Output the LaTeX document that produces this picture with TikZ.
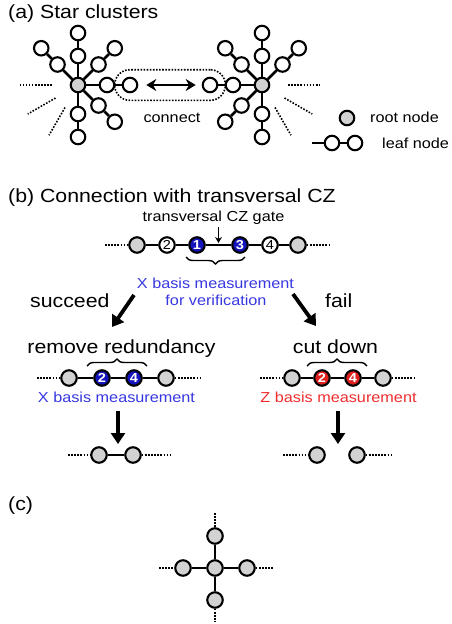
\documentclass[tikz,border=0pt]{standalone}
\usepackage{fontspec}
\setmainfont{Liberation Sans}[FakeStretch=1.12]
\usetikzlibrary{arrows.meta,decorations.pathreplacing,fit}
\definecolor{nodegray}{RGB}{210,210,210}
\definecolor{fillblue}{RGB}{20,20,190}
\definecolor{textblue}{RGB}{55,55,225}
\definecolor{fillred}{RGB}{225,30,30}
\definecolor{textred}{RGB}{240,45,45}
\begin{document}
\begin{tikzpicture}[x=1pt,y=-1pt,
  leaf/.style={circle,draw,line width=2.1pt,fill=white,minimum size=14.5pt,inner sep=0pt},
  root/.style={leaf,fill=nodegray},
  qb/.style={circle,draw,line width=2.1pt,minimum size=15.5pt,inner sep=0pt,font=\fontsize{13}{13}\selectfont},
  qopen/.style={qb,fill=white},
  qgray/.style={qb,fill=nodegray},
  qblue/.style={qb,fill=fillblue,text=white,font=\fontsize{13}{13}\selectfont\bfseries},
  qred/.style={qb,fill=fillred,text=white,font=\fontsize{13}{13}\selectfont\bfseries},
  edge/.style={line width=2.6pt},
  dots/.style={line width=1.6pt,dash pattern=on 1.6pt off 1.5pt},
  big/.style={font=\fontsize{19}{22}\selectfont},
  small/.style={font=\fontsize{14.5}{17}\selectfont},
  bigarrow/.style={line width=3.8pt,-{Triangle[width=14pt,length=11pt]}},
  brc/.style={decorate,decoration={brace,amplitude=7pt},line width=1.4pt},
]
\useasboundingbox (0,0) rectangle (452,624);

% ---------------- (a) ----------------
\node[big,anchor=base west,inner sep=0pt] (ta) at (8,18) {(a) Star clusters};

\node[root] (L) at (78,85) {};
\foreach \a in {270,90,0,225,315,45} {
  \node[leaf] (La\a) at ([shift={(\a:29)}]L) {};
  \node[leaf] (Lb\a) at ([shift={(\a:52)}]L) {};
  \draw[edge] (L) -- (La\a) -- (Lb\a);
}
\node[root] (R) at (262,85) {};
\foreach \a in {270,90,180,225,315,135} {
  \node[leaf] (Ra\a) at ([shift={(\a:29)}]R) {};
  \node[leaf] (Rb\a) at ([shift={(\a:52)}]R) {};
  \draw[edge] (R) -- (Ra\a) -- (Rb\a);
}
% dotted continuation lines
\foreach \a in {180,150,120} {
  \coordinate (Ld\a s) at ([shift={(\a:26)}]L);
  \coordinate (Ld\a e) at ([shift={(\a:58)}]L);
  \draw[dots] (Ld\a s) -- (Ld\a e);
}
\foreach \a in {0,30,60} {
  \coordinate (Rd\a s) at ([shift={(\a:26)}]R);
  \coordinate (Rd\a e) at ([shift={(\a:58)}]R);
  \draw[dots] (Rd\a s) -- (Rd\a e);
}
\node[fit=(Lb0)(Rb180),inner sep=7pt,rounded corners=15pt,draw,dots] (box) {};
\draw[line width=2.2pt,{Stealth[width=12pt,length=10pt]}-{Stealth[width=12pt,length=10pt]}]
  ([xshift=8pt]Lb0.east) -- ([xshift=-6pt]Rb180.west);
\node[small,anchor=base] (conn) at (172,122) {connect};

% legend
\node[root] (lgr) at (347,118) {};
\node[small,anchor=base west,inner sep=0pt] (lgrt) at (370,122.5) {root node};
\coordinate (lg0) at (312,143);
\node[leaf] (lg1) at (332,143) {};
\node[leaf] (lg2) at (355,143) {};
\draw[edge] (lg0) -- (lg1) -- (lg2);
\node[small,anchor=base west,inner sep=0pt] (lglt) at (382,148.5) {leaf node};

% ---------------- (b) ----------------
\node[big,anchor=base west,inner sep=0pt] (tb) at (8,202) {(b) Connection with transversal CZ};
\node[small,anchor=base,inner sep=0pt] (cz) at (213.5,221) {transversal CZ gate};

\node[qgray] (g1) at (137,245) {};
\node[qopen] (o2) at (167,245) {2};
\node[qblue] (b1) at (197,245) {1};
\node[qblue] (b3) at (240,245) {3};
\node[qopen] (o4) at (270,245) {4};
\node[qgray] (g2) at (298,245) {};
\draw[edge] (g1) -- (o2) -- (b1) -- (b3) -- (o4) -- (g2);
\coordinate (c1l) at (105,245);
\coordinate (c1r) at (329,245);
\draw[dots] (c1l) -- (g1);
\draw[dots] (g2) -- (c1r);
\coordinate (czs) at (218.5,227);
\coordinate (cze) at (218.5,243);
\draw[line width=1.3pt,-{Stealth[width=7pt,length=6pt]}] (czs) -- (cze);
\coordinate (br1a) at (245,257);
\coordinate (br1b) at (186,257);
\draw[brc] (br1a) -- (br1b);
\node[small,anchor=base,text=textblue,inner sep=0pt] (xb1) at (215.5,288) {X basis measurement};
\node[small,anchor=base,text=textblue,inner sep=0pt] (xb2) at (216,305.5) {for verification};

\node[big,anchor=base west,inner sep=0pt] (suc) at (30,307) {succeed};
\node[big,anchor=base west,inner sep=0pt] (fail) at (325,307) {fail};
\coordinate (sa) at (134,295);
\coordinate (sb) at (112,327);
\draw[bigarrow] (sa) -- (sb);
\coordinate (fa) at (293,294);
\coordinate (fb) at (316,326);
\draw[bigarrow] (fa) -- (fb);

% left branch
\node[big,anchor=base,inner sep=0pt] (rr) at (121.5,353) {remove redundancy};
\coordinate (br2a) at (87,366);
\coordinate (br2b) at (147,366);
\draw[brc] (br2a) -- (br2b);
\node[qgray] (lg1b) at (69,378) {};
\node[qblue] (lb2) at (102,378) {2};
\node[qblue] (lb4) at (134,378) {4};
\node[qgray] (lg2b) at (166,378) {};
\draw[edge] (lg1b) -- (lb2) -- (lb4) -- (lg2b);
\coordinate (c2l) at (37,378);
\coordinate (c2r) at (200,378);
\draw[dots] (c2l) -- (lg1b);
\draw[dots] (lg2b) -- (c2r);
\node[small,anchor=base,text=textblue,inner sep=0pt] (xb3) at (116.5,402) {X basis measurement};
\coordinate (da1) at (118,411);
\coordinate (db1) at (118,444);
\draw[bigarrow] (da1) -- (db1);
\node[qgray] (lr1) at (99,455) {};
\node[qgray] (lr2) at (133,455) {};
\draw[edge] (lr1) -- (lr2);
\coordinate (c3l) at (68,455);
\coordinate (c3r) at (170,455);
\draw[dots] (c3l) -- (lr1);
\draw[dots] (lr2) -- (c3r);

% right branch
\node[big,anchor=base,inner sep=0pt] (cd) at (335.5,353) {cut down};
\coordinate (br3a) at (307,366);
\coordinate (br3b) at (367,366);
\draw[brc] (br3a) -- (br3b);
\node[qgray] (rg1) at (292,378) {};
\node[qred] (r2) at (322,378) {2};
\node[qred] (r4) at (353,378) {4};
\node[qgray] (rg2) at (383,378) {};
\draw[edge] (rg1) -- (r2) -- (r4) -- (rg2);
\coordinate (c4l) at (260,378);
\coordinate (c4r) at (415,378);
\draw[dots] (c4l) -- (rg1);
\draw[dots] (rg2) -- (c4r);
\node[small,anchor=base,text=textred,inner sep=0pt] (zb) at (338.5,402) {Z basis measurement};
\coordinate (da2) at (338,411);
\coordinate (db2) at (338,444);
\draw[bigarrow] (da2) -- (db2);
\node[qgray] (rr1) at (317,455) {};
\node[qgray] (rr2) at (357,455) {};
\coordinate (c5l) at (283,455);
\coordinate (c5r) at (392,455);
\draw[dots] (c5l) -- (rr1);
\draw[dots] (rr2) -- (c5r);

% ---------------- (c) ----------------
\node[big,anchor=base west,inner sep=0pt] (tc) at (8,510) {(c)};
\node[qgray] (cc) at (215,568) {};
\node[qgray] (ct) at (215,536) {};
\node[qgray] (cb) at (215,600) {};
\node[qgray] (cl) at (183,568) {};
\node[qgray] (cr) at (247,568) {};
\draw[edge] (cc) -- (ct);
\draw[edge] (cc) -- (cb);
\draw[edge] (cc) -- (cl);
\draw[edge] (cc) -- (cr);
\coordinate (ctd) at (215,513);
\coordinate (cbd) at (215,622);
\coordinate (cld) at (159,568);
\coordinate (crd) at (274,568);
\draw[dots] (ctd) -- (ct);
\draw[dots] (cb) -- (cbd);
\draw[dots] (cld) -- (cl);
\draw[dots] (cr) -- (crd);
\end{tikzpicture}
\end{document}
